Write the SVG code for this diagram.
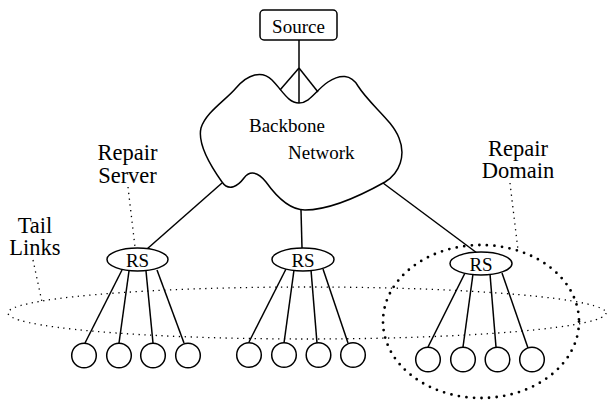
<svg xmlns="http://www.w3.org/2000/svg" width="607" height="401" viewBox="0 0 607 401">
<style>
.ln{stroke:#000;stroke-width:1.5;fill:none}
.nd{stroke:#000;stroke-width:1.5;fill:#fff}
.t{font-family:"Liberation Serif","Times New Roman",serif;fill:#000}
.n{font-size:19px}
.l{font-size:22.5px}
.dot{stroke:#000;stroke-width:1.3;fill:none;stroke-dasharray:1.3 4.5}
.bigdot{stroke:#000;stroke-width:2.8;fill:none;stroke-dasharray:0 7.6;stroke-linecap:round}
</style>
<rect width="607" height="401" fill="#fff"/>
<g id="connectors">
<line class="ln" x1="299" y1="40" x2="299" y2="68"/>
<line class="ln" x1="299" y1="68" x2="280" y2="90"/>
<line class="ln" x1="299" y1="68" x2="299" y2="103"/>
<line class="ln" x1="299" y1="68" x2="318" y2="92"/>
<line class="ln" x1="222" y1="183" x2="147" y2="249"/>
<line class="ln" x1="301" y1="210" x2="302" y2="248"/>
<line class="ln" x1="383" y1="183" x2="477" y2="253"/>
<line class="ln" x1="122" y1="270" x2="85" y2="343"/>
<line class="ln" x1="129" y1="271" x2="119" y2="343"/>
<line class="ln" x1="146" y1="271" x2="153" y2="343"/>
<line class="ln" x1="157" y1="270" x2="184" y2="343"/>
<line class="ln" x1="286" y1="269" x2="249" y2="342"/>
<line class="ln" x1="294" y1="270" x2="284" y2="343"/>
<line class="ln" x1="311" y1="270" x2="317" y2="343"/>
<line class="ln" x1="323" y1="269" x2="348" y2="343"/>
<line class="ln" x1="465" y1="273" x2="428" y2="347"/>
<line class="ln" x1="473" y1="274" x2="463" y2="347"/>
<line class="ln" x1="490" y1="274" x2="496" y2="347"/>
<line class="ln" x1="502" y1="273" x2="528" y2="348"/>
<line class="dot" x1="128" y1="187" x2="135" y2="247"/>
<line class="dot" x1="33" y1="260" x2="42" y2="302"/>
<line class="dot" x1="510" y1="183" x2="518" y2="250"/>
</g>
<g id="tail-links">
<ellipse class="dot" cx="307" cy="313" rx="299" ry="26"/>
</g>
<g id="repair-domain">
<ellipse class="bigdot" cx="481" cy="321.5" rx="98" ry="76.5"/>
</g>
<g id="source">
<rect class="nd" x="260" y="10" width="77" height="30" rx="4"/>
<text class="t n" x="298.5" y="33" text-anchor="middle">Source</text>
</g>
<g id="backbone">
<path class="ln" d="M299,103 C288,103 282,90 272,80 C262,70 248,74 236,88 C226,100 206,112 201,128 C197,145 212,168 222,182 C229,192 238,186 244,178 C250,170 258,172 266,182 C276,196 290,210 305,210 C330,210 360,196 385,182 C400,173 406,155 399,138 C392,120 370,105 358,86 C351,74 340,74 328,82 C316,90 310,103 299,103 Z"/>
<text class="t n" x="249" y="132">Backbone</text>
<text class="t n" x="288" y="159">Network</text>
</g>
<g id="rs1">
<ellipse class="nd" cx="137.5" cy="259.5" rx="30.5" ry="11.5"/>
<text class="t n" x="137.5" y="267" text-anchor="middle">RS</text>
</g>
<g id="rs2">
<ellipse class="nd" cx="303" cy="259.5" rx="31" ry="11.5"/>
<text class="t n" x="303" y="267" text-anchor="middle">RS</text>
</g>
<g id="rs3">
<ellipse class="nd" cx="481" cy="263.5" rx="31" ry="11.5"/>
<text class="t n" x="481" y="271" text-anchor="middle">RS</text>
</g>
<g id="leaves1">
<circle class="nd" cx="84" cy="355.5" r="12.3"/>
<circle class="nd" cx="119" cy="355.5" r="12.3"/>
<circle class="nd" cx="153" cy="355.5" r="12.3"/>
<circle class="nd" cx="188" cy="355.5" r="12.3"/>
</g>
<g id="leaves2">
<circle class="nd" cx="249" cy="355" r="12.3"/>
<circle class="nd" cx="284" cy="355" r="12.3"/>
<circle class="nd" cx="318.5" cy="355" r="12.3"/>
<circle class="nd" cx="353" cy="355" r="12.3"/>
</g>
<g id="leaves3">
<circle class="nd" cx="428" cy="359.5" r="12.3"/>
<circle class="nd" cx="463" cy="359.5" r="12.3"/>
<circle class="nd" cx="497.5" cy="359.5" r="12.3"/>
<circle class="nd" cx="532" cy="359.5" r="12.3"/>
</g>
<g id="label-repair-server">
<text class="t l" x="127.5" y="160" text-anchor="middle">Repair</text>
<text class="t l" x="127.5" y="183" text-anchor="middle">Server</text>
</g>
<g id="label-tail-links">
<text class="t l" x="35" y="233" text-anchor="middle">Tail</text>
<text class="t l" x="35" y="255" text-anchor="middle">Links</text>
</g>
<g id="label-repair-domain">
<text class="t l" x="518" y="156" text-anchor="middle">Repair</text>
<text class="t l" x="518" y="178" text-anchor="middle">Domain</text>
</g>
</svg>
